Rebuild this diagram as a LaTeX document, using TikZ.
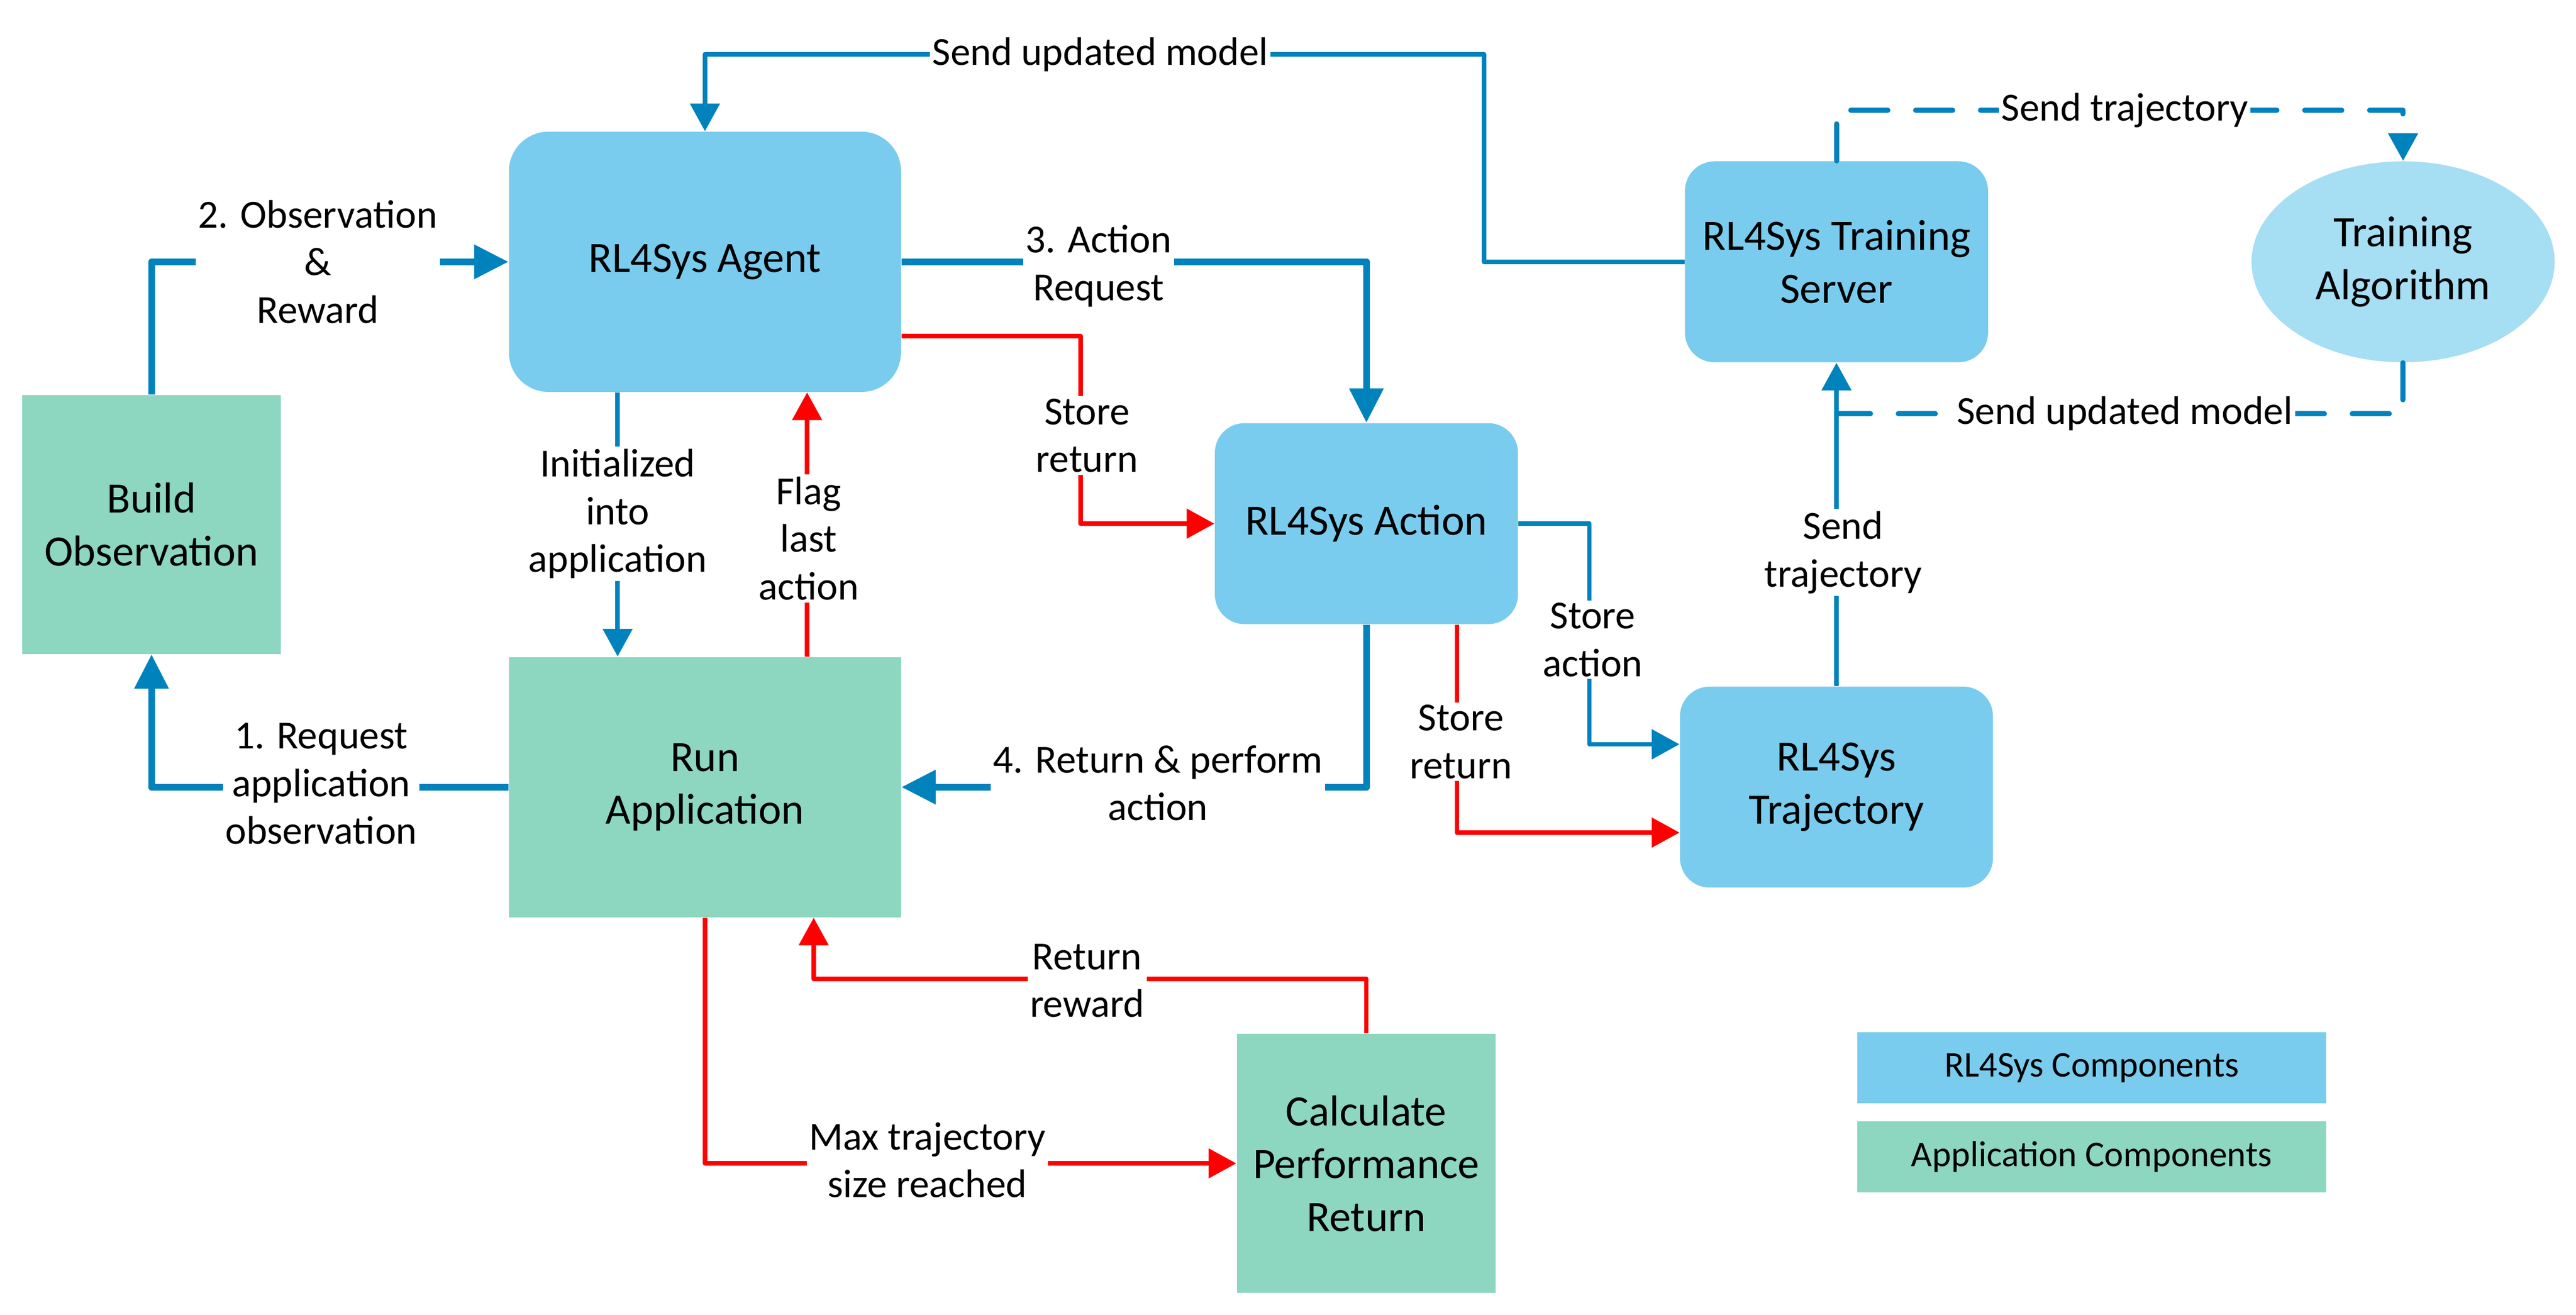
\documentclass[tikz,border=0pt]{standalone}
\usepackage{fontspec}
\setmainfont{Carlito}
\usepackage{xcolor}
\usetikzlibrary{arrows.meta,shapes.geometric}
\definecolor{rlblue}{HTML}{79CCEE}
\definecolor{algoblue}{HTML}{A6DEF4}
\definecolor{appgreen}{HTML}{8DD6C0}
\definecolor{lineblue}{HTML}{0082BC}
\definecolor{linered}{HTML}{FF0000}
\tikzset{
    rl-box/.style = {fill=rlblue, rectangle, rounded corners=0.45cm, minimum width=4.6cm, minimum height=3.05cm, align=center, font={\fontsize{18.7}{22.8}\selectfont}},
    app-box/.style = {fill=appgreen, rectangle, minimum width=3.93cm, minimum height=3.93cm, align=center, font={\fontsize{18.7}{22.8}\selectfont}},
    algo-ellipse/.style = {fill=algoblue, ellipse, minimum width=4.6cm, minimum height=3.05cm, align=center, font={\fontsize{18.7}{22.8}\selectfont}},
    legend-box/.style = {rectangle, minimum width=7.11cm, minimum height=1.08cm, font={\fontsize{15.6}{19}\selectfont}},
    flow-label/.style = {fill=white, inner sep=1pt, align=center, font={\fontsize{17.2}{20.6}\selectfont}},
    blue-thick/.style = {draw=lineblue, line width=2.85pt, line join=round, -{Triangle[length=0.52cm, width=0.5cm]}},
    blue-thin/.style = {draw=lineblue, line width=1.95pt, line join=round, -{Triangle[length=0.42cm, width=0.44cm]}},
    red-flow/.style = {draw=linered, line width=1.95pt, line join=round, -{Triangle[length=0.42cm, width=0.44cm]}},
    dashed-flow/.style = {blue-thin, line width=2.2pt, line cap=round, dash pattern=on 16pt off 12pt},
}

\begin{document}
\begin{tikzpicture}[x=0.025cm, y=-0.025cm]
\useasboundingbox (0,0) rectangle (1564,798.35);

% components
\node [rl-box, rounded corners=0.6cm, minimum width=5.95cm, minimum height=3.95cm] (agent) at (428,159) {RL4Sys Agent};
\node [app-box] (build) at (92,318.5) {Build\\Observation};
\node [app-box, minimum width=5.95cm, minimum height=3.95cm] (run) at (428,478) {Run\\Application};
\node [rl-box] (action) at (829.6,318) {RL4Sys Action};
\node [rl-box, minimum width=4.75cm] (traj) at (1115,478) {RL4Sys\\Trajectory};
\node [rl-box] (server) at (1115,159) {RL4Sys Training\\Server};
\node [algo-ellipse] (algo) at (1459,159) {Training\\Algorithm};
\node [app-box] (calc) at (829.5,706.5) {Calculate\\Performance\\Return};

% legend
\node [legend-box, fill=rlblue] (leg-rl) at (1270,648.5) {RL4Sys Components};
\node [legend-box, fill=appgreen] (leg-app) at (1270,702.5) {Application Components};

% bend points
\coordinate (ra) at (656,260);
\coordinate (sa) at (965,389);
\coordinate (um) at (901,33);
\coordinate (st) at (1290,67);
\coordinate (rr) at (660,594.5);
\coordinate (mj) at ([yshift=-0.775cm]server.south);

% numbered loop
\draw [blue-thick] (run.west) -| (build.south);
\draw [blue-thick] (build.north) |- (agent.west);
\draw [blue-thick] (agent.east) -| (action.north);
\draw [blue-thick] (action.south) |- (run.east);

% other flows
\draw [blue-thin] ([xshift=-1.325cm]agent.south) -- ([xshift=-1.325cm]run.north);
\draw [red-flow] ([xshift=1.55cm]run.north) -- ([xshift=1.55cm]agent.south);
\draw [red-flow] ([yshift=-1.125cm]agent.east) -| (ra) |- (action.west);
\draw [blue-thin] (action.east) -| (sa) |- ([yshift=0.65cm]traj.west);
\draw [red-flow] ([xshift=1.375cm]action.south) |- ([yshift=-0.69cm]traj.west);
\draw [blue-thin] (traj.north) -- (server.south);
\draw [blue-thin] (server.west) -| (um) -| (agent.north);
\draw [dashed-flow] (server.north) |- (st) -| (algo.north);
\draw [dashed-flow, -] (algo.south) |- (mj);
\draw [red-flow] (run.south) |- (calc.west);
\draw [red-flow] (calc.north) |- (rr) -| ([xshift=1.65cm]run.south);

% labels
\node [flow-label] (l-request) at (195,476) {1. Request\\application\\observation};
\node [flow-label] (l-obs) at (193,159) {2. Observation\\\&\\Reward};
\node [flow-label] (l-actreq) at (667,161.5) {3. Action\\Request};
\node [flow-label] (l-return) at (703,475.5) {4. Return \& perform\\action};
\node [flow-label] (l-init) at (375,312) {Initialized\\into\\application};
\node [flow-label] (l-flag) at (491,327) {Flag\\last\\action};
\node [flow-label] (l-store1) at (660,264.5) {Store\\return};
\node [flow-label] (l-storeact) at (967,388.5) {Store\\action};
\node [flow-label] (l-store2) at (887,450.5) {Store\\return};
\node [flow-label] (l-sendtraj) at (1119,335.5) {Send\\trajectory};
\node [flow-label] (l-model1) at (668,33) {Send updated model};
\node [flow-label] (l-traj2) at (1290,67) {Send trajectory};
\node [flow-label] (l-model2) at (1290,251) {Send updated model};
\node [flow-label] (l-max) at (563,704.5) {Max trajectory\\size reached};
\node [flow-label] (l-reward) at (660,595.5) {Return\\reward};
\end{tikzpicture}
\end{document}
